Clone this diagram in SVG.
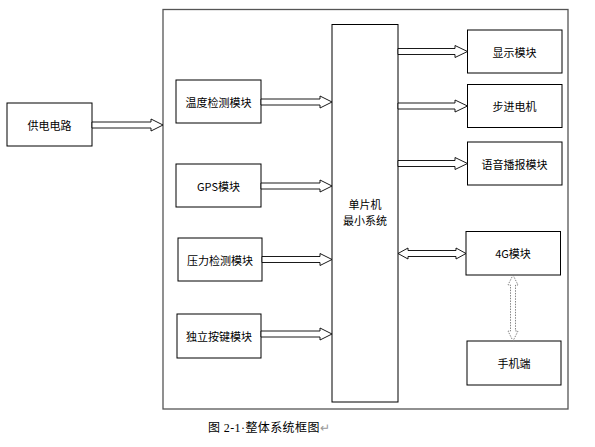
<svg xmlns="http://www.w3.org/2000/svg" width="595" height="447" viewBox="0 0 595 447">
<style>
.box{fill:#fff;stroke:#000;stroke-width:1}
.frame{fill:none;stroke:#555;stroke-width:1.3}
.arr{fill:#fff;stroke:#000;stroke-width:0.9}
.dot{fill:#fff;stroke:#666;stroke-width:0.8;stroke-dasharray:1.5 1.2}
text{font-family:"Noto Sans CJK SC","Liberation Sans",sans-serif;font-size:11px;fill:#000;text-anchor:middle;dominant-baseline:central}
.cap{font-family:"Liberation Serif","Noto Sans CJK SC",serif;font-size:12px;text-anchor:start;letter-spacing:0.4px}
</style>
<rect width="595" height="447" fill="#fff"/>
<rect class="frame" x="163" y="9.5" width="405" height="399.5"/>
<g id="power"><rect class="box" x="7" y="103" width="85" height="43"/><text x="49.5" y="124.5">供电电路</text></g>
<g id="temp"><rect class="box" x="176" y="80" width="85" height="43"/><text x="218.5" y="101.5">温度检测模块</text></g>
<g id="gps"><rect class="box" x="176" y="164" width="85" height="43"/><text x="218.5" y="185.5">GPS模块</text></g>
<g id="pressure"><rect class="box" x="178" y="238" width="84" height="43"/><text x="220" y="259.5">压力检测模块</text></g>
<g id="keys"><rect class="box" x="177" y="314" width="84" height="44"/><text x="219" y="336">独立按键模块</text></g>
<g id="mcu"><rect class="box" x="332" y="24.5" width="66" height="377.5"/><text x="365" y="204">单片机</text><text x="365" y="220">最小系统</text></g>
<g id="display"><rect class="box" x="467.5" y="30" width="94.5" height="43"/><text x="514.5" y="51.5">显示模块</text></g>
<g id="motor"><rect class="box" x="467.5" y="84.5" width="94.5" height="43"/><text x="514.5" y="106">步进电机</text></g>
<g id="voice"><rect class="box" x="467.5" y="142" width="94.5" height="43"/><text x="514.5" y="163.5">语音播报模块</text></g>
<g id="m4g"><rect class="box" x="466" y="231.5" width="94.5" height="43.5"/><text x="513" y="253">4G模块</text></g>
<g id="phone"><rect class="box" x="467" y="341" width="94" height="44"/><text x="514" y="363">手机端</text></g>
<g id="connectors">
<path class="arr" d="M92,122 H151 V119 L163,125 L151,131 V128 H92 Z"/>
<path class="arr" d="M261,99 H320 V96 L332,102 L320,108 V105 H261 Z"/>
<path class="arr" d="M261,183 H320 V180 L332,186 L320,192 V189 H261 Z"/>
<path class="arr" d="M262,256.5 H320 V253.5 L332,259.5 L320,265.5 V262.5 H262 Z"/>
<path class="arr" d="M261,331 H320 V328 L332,334 L320,340 V337 H261 Z"/>
<path class="arr" d="M398,48.5 H455 V45.5 L467.5,51.5 L455,57.5 V54.5 H398 Z"/>
<path class="arr" d="M398,103 H455 V100 L467.5,106 L455,112 V109 H398 Z"/>
<path class="arr" d="M398,160.5 H455 V157.5 L467.5,163.5 L455,169.5 V166.5 H398 Z"/>
<path class="arr" d="M398,253.5 L408,248 V250.5 H456 V248 L466,253.5 L456,259 V256.5 H408 V259 Z"/>
<path class="dot" d="M513,275 L518,285 H515.5 V331 H518 L513,341 L508,331 H510.5 V285 H508 Z"/>
</g>
<text class="cap" x="208" y="428">图 2-1·整体系统框图<tspan fill="#999">↵</tspan></text>
</svg>
